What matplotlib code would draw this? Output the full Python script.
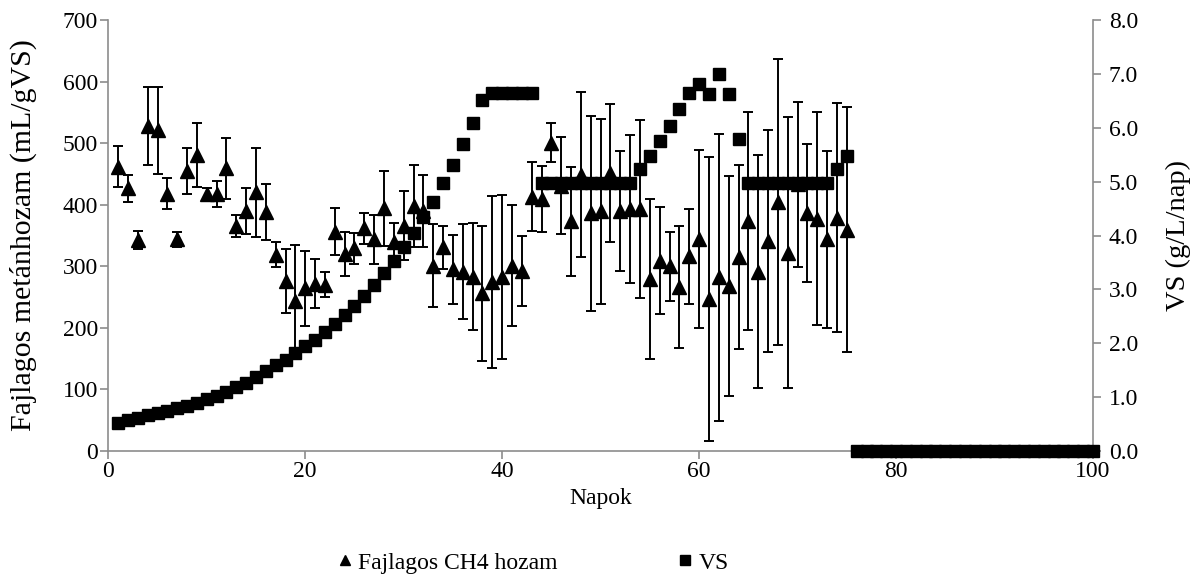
import matplotlib
matplotlib.use("Agg")
import matplotlib.pyplot as plt
from matplotlib.lines import Line2D
from matplotlib.ticker import FormatStrFormatter

plt.rcParams['font.family'] = ['Liberation Serif', 'DejaVu Serif']

days_ch4 = list(range(1, 76))
ch4 = [462, 427, 343, 528, 521, 418, 344, 455, 480, 417,
       418, 459, 366, 390, 420, 388, 319, 276, 244, 264,
       272, 270, 356, 320, 329, 362, 344, 394, 340, 366,
       398, 390, 301, 331, 295, 291, 283, 256, 274, 283,
       301, 292, 413, 409, 501, 431, 373, 449, 386, 389,
       451, 390, 393, 393, 279, 309, 300, 267, 316, 344,
       247, 282, 268, 315, 374, 291, 341, 404, 322, 433,
       386, 377, 344, 379, 359]
ch4_err = [34, 22, 15, 63, 71, 25, 12, 37, 52, 10,
           21, 50, 18, 37, 72, 45, 20, 52, 91, 61,
           40, 20, 38, 36, 25, 25, 40, 61, 31, 56,
           67, 59, 67, 35, 56, 77, 87, 110, 140, 133,
           98, 57, 56, 54, 31, 79, 88, 134, 158, 150,
           112, 98, 120, 144, 130, 87, 56, 99, 77, 145,
           230, 233, 178, 149, 177, 189, 180, 232, 220, 134,
           112, 173, 144, 186, 199]

days_vs = list(range(1, 101))
vs = [0.52, 0.57, 0.61, 0.66, 0.70, 0.74, 0.79, 0.84, 0.90, 0.96,
      1.03, 1.10, 1.18, 1.27, 1.38, 1.49, 1.60, 1.69, 1.81, 1.94,
      2.06, 2.20, 2.36, 2.52, 2.70, 2.88, 3.09, 3.31, 3.53, 3.79,
      4.05, 4.34, 4.63, 4.97, 5.31, 5.69, 6.09, 6.51, 6.64, 6.64,
      6.64, 6.64, 6.64, 4.97, 4.97, 4.97, 4.97, 4.97, 4.97, 4.97,
      4.97, 4.97, 4.97, 5.23, 5.48, 5.76, 6.04, 6.35, 6.64, 6.82,
      6.63, 6.99, 6.63, 5.80, 4.97, 4.97, 4.97, 4.97, 4.97, 4.97,
      4.97, 4.97, 4.97, 5.23, 5.48, 0, 0, 0, 0, 0,
      0, 0, 0, 0, 0, 0, 0, 0, 0, 0,
      0, 0, 0, 0, 0, 0, 0, 0, 0, 0]

fig = plt.figure(figsize=(11.99, 5.87), dpi=100)
ax = fig.add_axes([0.0903, 0.2317, 0.9116 - 0.0903, 0.9659 - 0.2317])
ax2 = ax.twinx()

ax.errorbar(days_ch4, ch4, yerr=ch4_err, fmt='^', color='black', ms=9.5,
            ecolor='black', elinewidth=1.4, capsize=3.8, capthick=1.4, zorder=3)
ax2.plot(days_vs, vs, 's', color='black', ms=8.3, clip_on=False, zorder=4)

ax.set_xlim(0, 100)
ax.set_ylim(0, 700)
ax2.set_ylim(0, 8)
ax.set_xticks([0, 20, 40, 60, 80, 100])
ax.set_yticks(range(0, 701, 100))
ax2.set_yticks([0, 1, 2, 3, 4, 5, 6, 7, 8])
ax2.yaxis.set_major_formatter(FormatStrFormatter('%.1f'))

gray = '#8c8c8c'
for a in (ax, ax2):
    a.spines['top'].set_visible(False)
    for s in ('left', 'right', 'bottom'):
        a.spines[s].set_color(gray)
        a.spines[s].set_linewidth(1.2)
    a.tick_params(axis='both', direction='out', length=5.5, width=1.2, color=gray,
                  labelsize=17, labelcolor='black', pad=2)
ax2.tick_params(axis='y', pad=6)
ax2.spines['left'].set_visible(False)
ax2.spines['bottom'].set_visible(False)
ax.spines['right'].set_visible(False)

ax.set_xlabel('Napok', fontsize=17, labelpad=4)
ax.set_ylabel('Fajlagos metánhozam (mL/gVS)', fontsize=21.5, labelpad=18)
ax2.set_ylabel('VS (g/L/nap)', fontsize=20.5, labelpad=20)

handles = [Line2D([], [], marker='^', ls='', color='black', ms=7.5),
           Line2D([], [], marker='s', ls='', color='black', ms=6.5)]
fig.legend(handles, ['Fajlagos CH4 hozam', 'VS'], loc='center',
           bbox_to_anchor=(0.445, 0.041), ncol=2, frameon=False, fontsize=17,
           handlelength=0.6, handletextpad=0.25, columnspacing=5.1)

fig.savefig('out.png', dpi=100)
